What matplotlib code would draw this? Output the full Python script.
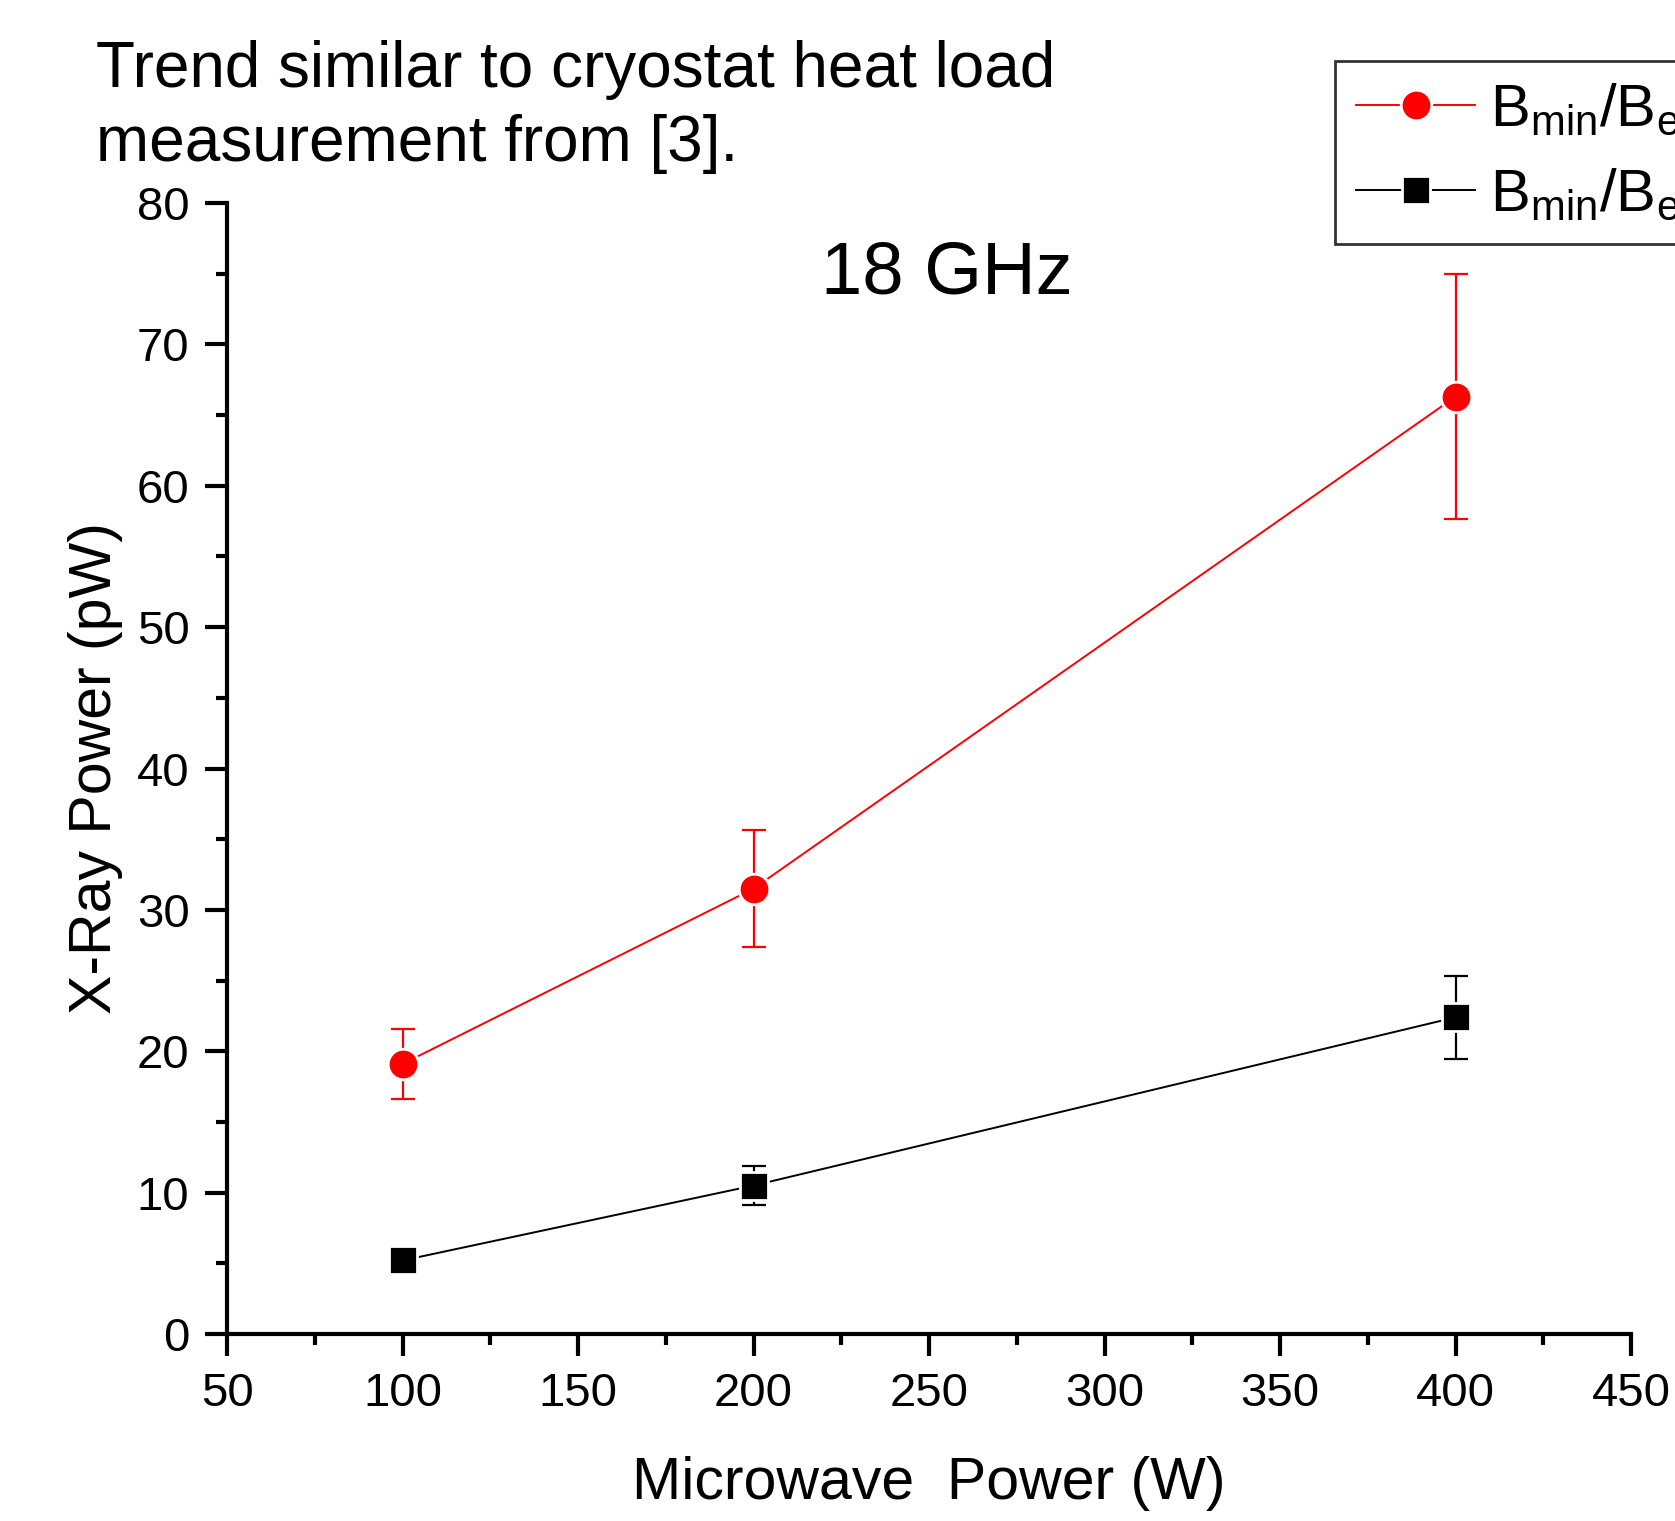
import matplotlib
matplotlib.use("Agg")
import matplotlib.pyplot as plt
from matplotlib.ticker import MultipleLocator

plt.rcParams['font.family'] = ['Liberation Sans', 'DejaVu Sans']
plt.rcParams['mathtext.fontset'] = 'custom'
plt.rcParams['mathtext.rm'] = 'Liberation Sans'
plt.rcParams['mathtext.it'] = 'Liberation Sans'

# data
power = [100, 200, 400]
xray_red = [19.1, 31.5, 66.3]
err_red = [2.5, 4.15, 8.65]
xray_black = [5.2, 10.5, 22.4]
err_black = [0.3, 1.36, 2.95]
label_red = r'$\mathregular{B_{min}/B_{ecr}}$ = 0.8'
label_black = r'$\mathregular{B_{min}/B_{ecr}}$ = 0.6'

W, H = 1675, 1521
fig = plt.figure(figsize=(W / 100, H / 100), dpi=100)
ax = fig.add_axes([227 / W, 187 / H, 1404 / W, 1131 / H])

ax.errorbar(power, xray_red, yerr=err_red, fmt='none', ecolor='red',
            elinewidth=1.6, capsize=8.5, capthick=1.6, zorder=2)
ax.errorbar(power, xray_black, yerr=err_black, fmt='none', ecolor='black',
            elinewidth=1.6, capsize=8.5, capthick=1.6, zorder=2)
h1, = ax.plot(power, xray_red, color='red', lw=1.4, marker='o', ms=22,
              mfc='red', mec='white', mew=2, zorder=3, label=label_red)
h2, = ax.plot(power, xray_black, color='black', lw=1.4, marker='s', ms=20,
              mfc='black', mec='white', mew=2, zorder=3, label=label_black)

ax.set_xlim(50, 450)
ax.set_ylim(0, 80)
ax.xaxis.set_major_locator(MultipleLocator(50))
ax.xaxis.set_minor_locator(MultipleLocator(25))
ax.yaxis.set_major_locator(MultipleLocator(10))
ax.yaxis.set_minor_locator(MultipleLocator(5))
ax.tick_params(which='major', direction='out', length=16, width=3, labelsize=34, pad=11)
ax.tick_params(which='minor', direction='out', length=8, width=3)
for s in ['top', 'right']:
    ax.spines[s].set_visible(False)
for s in ['left', 'bottom']:
    ax.spines[s].set_linewidth(3)

ax.set_xlabel('Microwave  Power (W)', fontsize=42.5, labelpad=29)
ax.set_ylabel('X-Ray Power (pW)', fontsize=42.5, labelpad=10)

fig.text(947 / W, 1 - 294 / H, '18 GHz', fontsize=53.5, ha='center', va='baseline')
fig.text(96 / W, 1 - 40 / H, 'Trend similar to cryostat heat load\nmeasurement from [3].',
         fontsize=46, ha='left', va='top', linespacing=1.3)

leg = fig.legend(handles=[h1, h2], loc='upper left',
                 bbox_to_anchor=(1335 / W, 1 - 61 / H), fontsize=43,
                 frameon=True, fancybox=False, edgecolor='black',
                 handlelength=2.0, handletextpad=0.25, borderpad=0.35,
                 labelspacing=0.5, borderaxespad=0)
leg.get_frame().set_linewidth(2)

fig.savefig('out.png', dpi=100)
